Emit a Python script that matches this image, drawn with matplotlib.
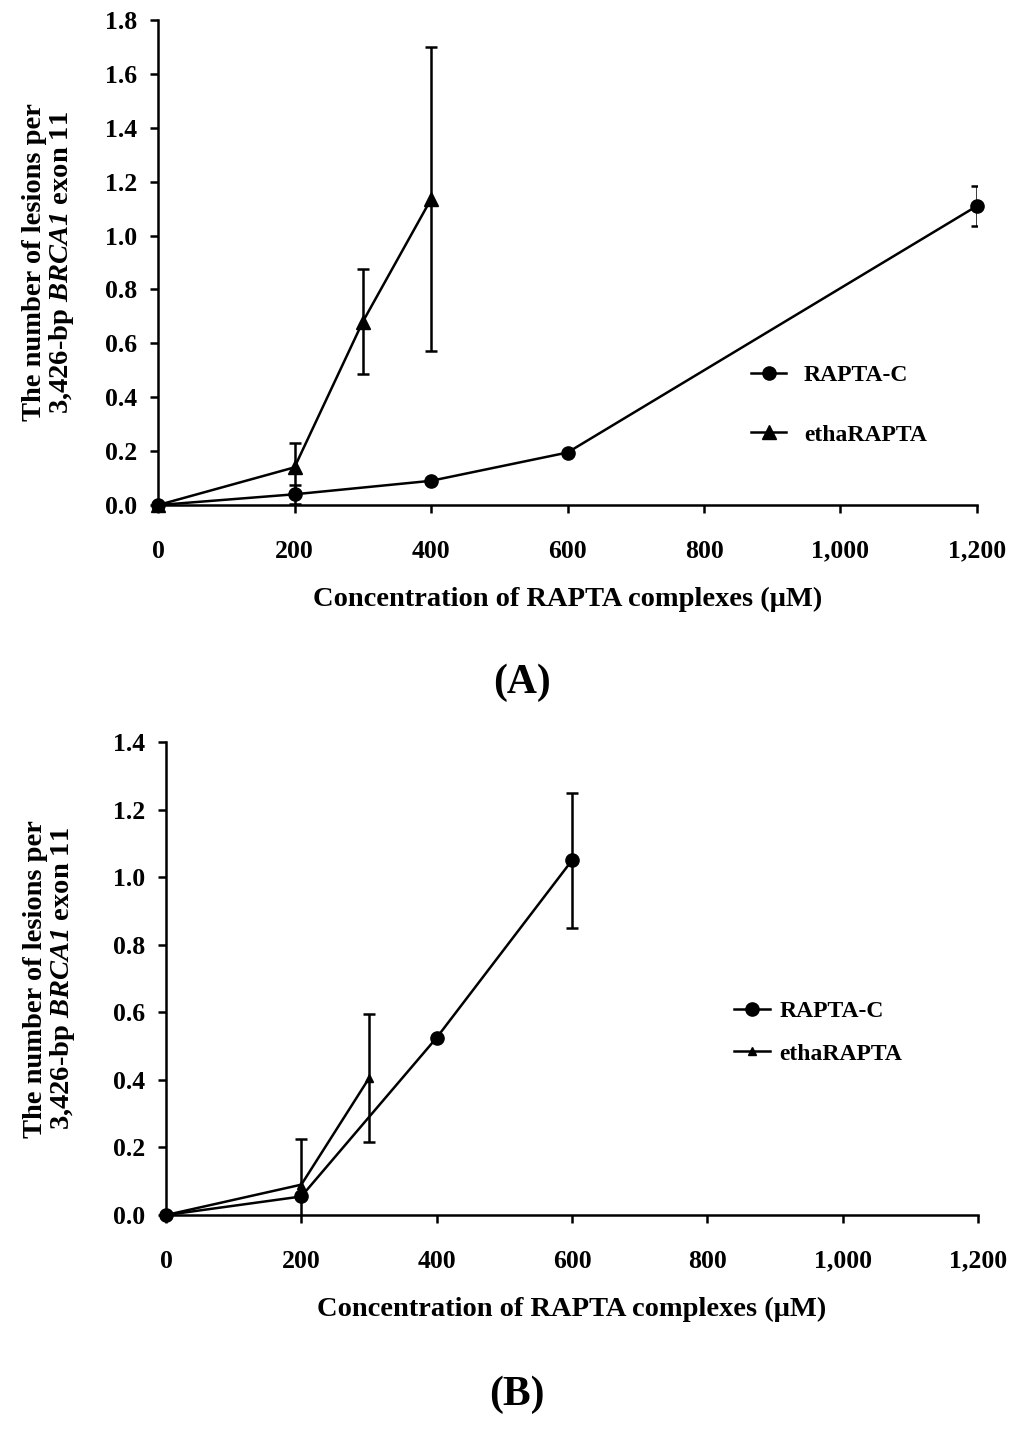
import numpy as np
import matplotlib
matplotlib.use("Agg")
import matplotlib.pyplot as plt

plt.rcParams['font.family'] = ['Liberation Serif', 'DejaVu Serif']
plt.rcParams['font.weight'] = 'bold'
plt.rcParams['mathtext.fontset'] = 'custom'
plt.rcParams['mathtext.rm'] = 'Liberation Serif:italic:bold'
plt.rcParams['mathtext.bf'] = 'Liberation Serif:bold'
plt.rcParams['mathtext.it'] = 'Liberation Serif:italic:bold'

# ---- Panel A data ----
a_rc_x = [0, 200, 400, 600, 1200]
a_rc_y = [0.0, 0.04, 0.09, 0.195, 1.11]
a_rc_err = [0.0, 0.035, 0.0, 0.0, 0.075]
a_et_x = [0, 200, 300, 400]
a_et_y = [0.0, 0.14, 0.68, 1.135]
a_et_err = [0.0, 0.09, 0.195, 0.565]

# ---- Panel B data ----
b_rc_x = [0, 200, 400, 600]
b_rc_y = [0.0, 0.055, 0.525, 1.05]
b_rc_err = [0.0, 0.0, 0.0, 0.2]
b_et_x = [0, 200, 300]
b_et_y = [0.0, 0.09, 0.405]
b_et_err = [0.0, 0.135, 0.19]

x_ticks = [0, 200, 400, 600, 800, 1000, 1200]
x_ticklabels = ['0', '200', '400', '600', '800', '1,000', '1,200']
a_yticks = [0.0, 0.2, 0.4, 0.6, 0.8, 1.0, 1.2, 1.4, 1.6, 1.8]
b_yticks = [0.0, 0.2, 0.4, 0.6, 0.8, 1.0, 1.2, 1.4]

ylabel = "The number of lesions per\n3,426-bp $\\mathrm{BRCA1}$ exon 11"
xlabel = "Concentration of RAPTA complexes (\u03bcM)"

fig = plt.figure(figsize=(10.24, 14.41), dpi=100)
axA = fig.add_axes([0.1543, 0.6495, 0.7998, 0.3366])
axB = fig.add_axes([0.1621, 0.1568, 0.7930, 0.3282])

def draw(ax, rx, ry, rerr, ex, ey, eerr, yticks, ylim, tri_ms, ylpad):
    ax.plot(rx, ry, '-', color='black', lw=1.8, marker='o', ms=9.5,
            clip_on=False, zorder=3, label='RAPTA-C')
    ax.plot(ex, ey, '-', color='black', lw=1.8, marker='^', ms=tri_ms,
            clip_on=False, zorder=3, label='ethaRAPTA')
    for xs, ys, es in ((rx, ry, rerr), (ex, ey, eerr)):
        xs = np.asarray(xs); ys = np.asarray(ys); es = np.asarray(es)
        m = es > 0
        ax.errorbar(xs[m], ys[m], yerr=es[m], fmt='none', ecolor='black',
                    elinewidth=1.8, capsize=4, capthick=1.8, zorder=2)
    ax.set_xlim(0, 1200)
    ax.set_ylim(*ylim)
    ax.set_xticks(x_ticks)
    ax.set_xticklabels(x_ticklabels)
    ax.set_yticks(yticks)
    ax.set_yticklabels([f"{v:.1f}" for v in yticks])
    for s in ('top', 'right'):
        ax.spines[s].set_visible(False)
    for s in ('left', 'bottom'):
        ax.spines[s].set_linewidth(1.8)
    ax.tick_params(direction='out', length=6, width=1.8, labelsize=18.5)
    ax.tick_params(axis='x', pad=19)
    ax.tick_params(axis='y', pad=9)
    ax.set_ylabel(ylabel, fontsize=20.5, fontweight='bold', labelpad=ylpad,
                  linespacing=1.0)
    ax.set_xlabel(xlabel, fontsize=20.5, fontweight='bold', labelpad=17)

draw(axA, a_rc_x, a_rc_y, a_rc_err, a_et_x, a_et_y, a_et_err, a_yticks, (0, 1.8), 10, 21)
draw(axB, b_rc_x, b_rc_y, b_rc_err, b_et_x, b_et_y, b_et_err, b_yticks, (0, 1.4), 6, 26)

axA.legend(loc='center left', bbox_to_anchor=(0.724, 0.206), frameon=False,
           fontsize=17, handlelength=1.5, handletextpad=0.75, labelspacing=1.6,
           borderpad=0, borderaxespad=0)
axB.legend(loc='center left', bbox_to_anchor=(0.70, 0.386), frameon=False,
           fontsize=17, handlelength=1.5, handletextpad=0.4, labelspacing=0.9,
           borderpad=0, borderaxespad=0)

fig.text(522 / 1024, 1 - 683 / 1441, '(A)', fontsize=30, fontweight='bold',
         ha='center', va='center')
fig.text(517 / 1024, 1 - 1395 / 1441, '(B)', fontsize=30, fontweight='bold',
         ha='center', va='center')

fig.savefig('out.png', dpi=100)
